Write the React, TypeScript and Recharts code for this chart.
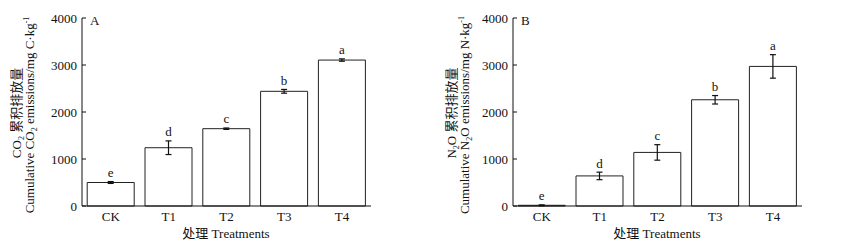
import { BarChart, Bar, XAxis, YAxis, ErrorBar, LabelList } from "recharts";

const categories = ["CK", "T1", "T2", "T3", "T4"];
const co2Values = [500, 1240, 1645, 2440, 3105];
const co2Errors = [20, 145, 15, 40, 25];
const co2Letters = ["e", "d", "c", "b", "a"];
const n2oValues = [15, 640, 1140, 2260, 2970];
const n2oErrors = [10, 80, 165, 90, 250];
const n2oLetters = ["e", "d", "c", "b", "a"];
const yTicks = [0, 1000, 2000, 3000, 4000];

const FONT = "'Liberation Serif', 'Times New Roman', 'Noto Sans CJK SC', serif";
const AXIS_X = 82;

const YTick = (props: any) => {
  const { x, y, payload } = props;
  const ax = x + 5;
  return (
    <g>
      <line x1={ax} x2={ax + 4} y1={y} y2={y} stroke="#111" />
      <text x={x} y={y} dy={4.5} textAnchor="end" fontSize={13} fontFamily={FONT} fill="#111">
        {payload.value}
      </text>
    </g>
  );
};

const makeLetter = (errors: number[], letters: string[], values: number[]) => (props: any) => {
  const { x, y, width, height, index } = props;
  const perUnit = values[index] ? Math.abs(height) / values[index] : 0;
  const top = y - errors[index] * perUnit;
  return (
    <text x={x + width / 2} y={top - 4.5} textAnchor="middle" fontSize={13} fontFamily={FONT} fill="#111">
      {letters[index]}
    </text>
  );
};

type PanelProps = {
  left: number;
  values: number[];
  errors: number[];
  letters: string[];
  tag: string;
  gas: string;
  unit: string;
  l1: number;
  l2: number;
};

const Panel = ({ left, values, errors, letters, tag, gas, unit, l1, l2 }: PanelProps) => {
  const data = categories.map((name, i) => ({ name, value: values[i], err: errors[i] }));
  return (
    <div style={{ position: "absolute", left, top: 0, width: 433, height: 248 }}>
      <BarChart width={433} height={248} data={data} margin={{ top: 18, right: 62, left: 0, bottom: 12 }} barCategoryGap="9%">
        <XAxis
          dataKey="name"
          interval={0}
          tickLine={false}
          tickSize={0}
          tickMargin={6}
          height={30}
          axisLine={{ stroke: "#111" }}
          tick={{ fontSize: 13, fontFamily: FONT, fill: "#111" }}
        />
        <YAxis
          width={AXIS_X}
          domain={[0, 4000]}
          ticks={yTicks}
          tickSize={0}
          tickMargin={5}
          tickLine={false}
          axisLine={{ stroke: "#111" }}
          tick={<YTick />}
        />
        <Bar dataKey="value" fill="#fff" stroke="#222" strokeWidth={1} isAnimationActive={false}>
          <ErrorBar dataKey="err" width={3} stroke="#111" strokeWidth={1.2} isAnimationActive={false} />
          <LabelList dataKey="value" content={makeLetter(errors, letters, values)} />
        </Bar>
      </BarChart>
      <svg width={433} height={248} style={{ position: "absolute", left: 0, top: 0, pointerEvents: "none" }}>
        <text x={90} y={25} fontSize={13} fontFamily={FONT} fill="#111">{tag}</text>
        <text x={226} y={238} textAnchor="middle" fontSize={13} fontFamily={FONT} fill="#111">
          处理 Treatments
        </text>
        <text
          transform={`translate(${l1},113) rotate(-90)`}
          textAnchor="middle"
          fontSize={13}
          fontFamily={FONT}
          fill="#111"
        >
          {gas}
          <tspan fontSize={8} dy={3}>2</tspan>
          <tspan dy={-3}>{gas === "N" ? "O 累积排放量" : " 累积排放量"}</tspan>
        </text>
        <text
          transform={`translate(${l2},115) rotate(-90)`}
          textAnchor="middle"
          fontSize={13}
          fontFamily={FONT}
          fill="#111"
        >
          {"Cumulative " + gas}
          <tspan fontSize={8} dy={3}>2</tspan>
          <tspan dy={-3}>{(gas === "N" ? "O" : "") + " emissions/mg " + unit + "·kg"}</tspan>
          <tspan fontSize={8} dy={-5}>-1</tspan>
        </text>
      </svg>
    </div>
  );
};

export default function App() {
  return (
    <div style={{ position: "absolute", left: 0, top: 0, width: 866, height: 248, background: "#fff" }}>
      <Panel left={0} values={co2Values} errors={co2Errors} letters={co2Letters} tag="A" gas="CO" unit="C" l1={21} l2={34} />
      <Panel left={431} values={n2oValues} errors={n2oErrors} letters={n2oLetters} tag="B" gas="N" unit="N" l1={25} l2={38} />
    </div>
  );
}
